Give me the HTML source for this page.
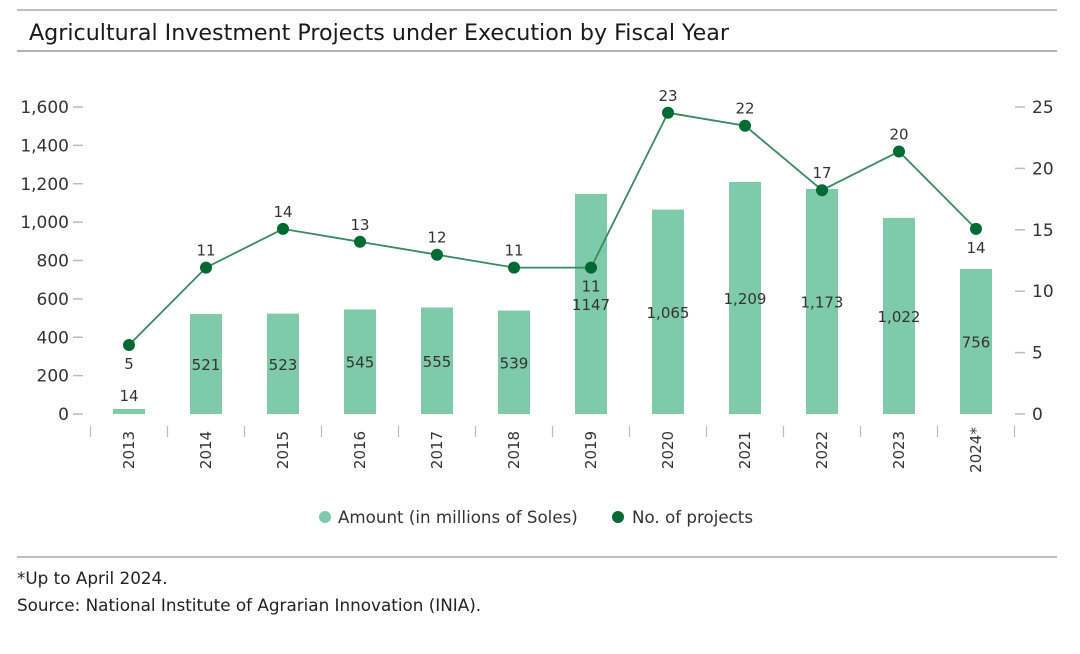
<!DOCTYPE html>
<html><head><meta charset="utf-8"><style>
body{margin:0;background:#fff;font-family:"Liberation Sans","DejaVu Sans",sans-serif;}
svg text{font-family:"DejaVu Sans","Liberation Sans",sans-serif;}
</style></head><body>
<svg width="1080" height="649" xmlns="http://www.w3.org/2000/svg" id="chart">
<line x1="17" y1="10" x2="1057" y2="10" stroke="#aaa" stroke-width="1.5"/>
<text x="29" y="40" font-size="22.2" fill="#1a1a1a" font-weight="500">Agricultural Investment Projects under Execution by Fiscal Year</text>
<line x1="17" y1="51" x2="1057" y2="51" stroke="#999" stroke-width="1.5"/>
<g id="plot"></g>
<circle cx="325" cy="517" r="6" fill="#7fcaa9"/>
<text x="338" y="523" font-size="16.7" fill="#333">Amount (in millions of Soles)</text>
<circle cx="618" cy="517" r="6" fill="#006934"/>
<text x="632" y="523" font-size="16.7" fill="#333">No. of projects</text>
<line x1="17" y1="557" x2="1057" y2="557" stroke="#999" stroke-width="1.2"/>
<text x="17" y="584" font-size="16.8" fill="#222">*Up to April 2024.</text>
<text x="17" y="611" font-size="16.8" fill="#222">Source: National Institute of Agrarian Innovation (INIA).</text>
</svg>
<script>
const categories=["2013","2014","2015","2016","2017","2018","2019","2020","2021","2022","2023","2024*"];
const amounts=[14,521,523,545,555,539,1147,1065,1209,1173,1022,756];
const amountLabels=["14","521","523","545","555","539","1147","1,065","1,209","1,173","1,022","756"];
const projects=[5,11,14,13,12,11,11,23,22,17,20,14];
const leftTicks=[0,200,400,600,800,1000,1200,1400,1600];
const leftTickLabels=["0","200","400","600","800","1,000","1,200","1,400","1,600"];
const rightTicks=[0,5,10,15,20,25];
const belowLabel=[true,false,false,false,false,false,true,false,false,false,false,true];

const NS="http://www.w3.org/2000/svg";
const g=document.getElementById('plot');
const y0=414;
const yL=v=>y0-v*(307/1600);
const yR=v=>y0-v*(307/25);
const yP=v=>409.5-v*12.9;
const xC=i=>129+i*77;
function mk(t,a,txt){const e=document.createElementNS(NS,t);for(const k in a)e.setAttribute(k,a[k]);if(txt!==undefined)e.textContent=txt;g.appendChild(e);return e;}
leftTicks.forEach((v,i)=>{
 const t=mk('line',{x1:73,x2:83,y1:yL(v),y2:yL(v),stroke:'#bbb','stroke-width':1.5});
 
 
 const l=mk('text',{x:69,y:yL(v)+6,'font-size':17,fill:'#333','text-anchor':'end'},leftTickLabels[i]);
 
 
});
rightTicks.forEach(v=>{
 const t=mk('line',{x1:1015,x2:1025,y1:yR(v),y2:yR(v),stroke:'#bbb','stroke-width':1.5});
 
 
 const l=mk('text',{x:1032,y:yR(v)+6,'font-size':17,fill:'#333'},String(v));
 
 
});
for(let i=0;i<=categories.length;i++){
 const x=xC(i)-38.5;
 const t=mk('line',{x1:x,x2:x,y1:426,y2:437,stroke:'#bbb','stroke-width':1.2});
 
 
}
categories.forEach((c,i)=>{
 const h=Math.max(y0-yL(amounts[i]),5);
 const b=mk('rect',{x:xC(i)-16,y:y0-h,width:32,height:h,fill:'#7fcaa9'});
 
 
 const ly=amounts[i]<100?y0-h-8:y0-h*0.5+6;
 const bl=mk('text',{x:xC(i),y:ly,'font-size':15,fill:'#333','text-anchor':'middle'},amountLabels[i]);
 
 
 const xl=mk('text',{x:0,y:0,'font-size':15,fill:'#333','text-anchor':'middle',transform:`translate(${xC(i)+5},450) rotate(-90)`},c);
 
 
});
const pts=projects.map((v,i)=>xC(i)+','+yP(v)).join(' ');
const pl=mk('polyline',{points:pts,fill:'none',stroke:'#3a8a5e','stroke-width':1.8});


projects.forEach((v,i)=>{
 const d=mk('circle',{cx:xC(i),cy:yP(v),r:6,fill:'#006934'});
 
 
 const ty=belowLabel[i]?yP(v)+24:yP(v)-12;
 const l=mk('text',{x:xC(i),y:ty,'font-size':15,fill:'#333','text-anchor':'middle'},String(v));
 
 
});
</script>
</body></html>
